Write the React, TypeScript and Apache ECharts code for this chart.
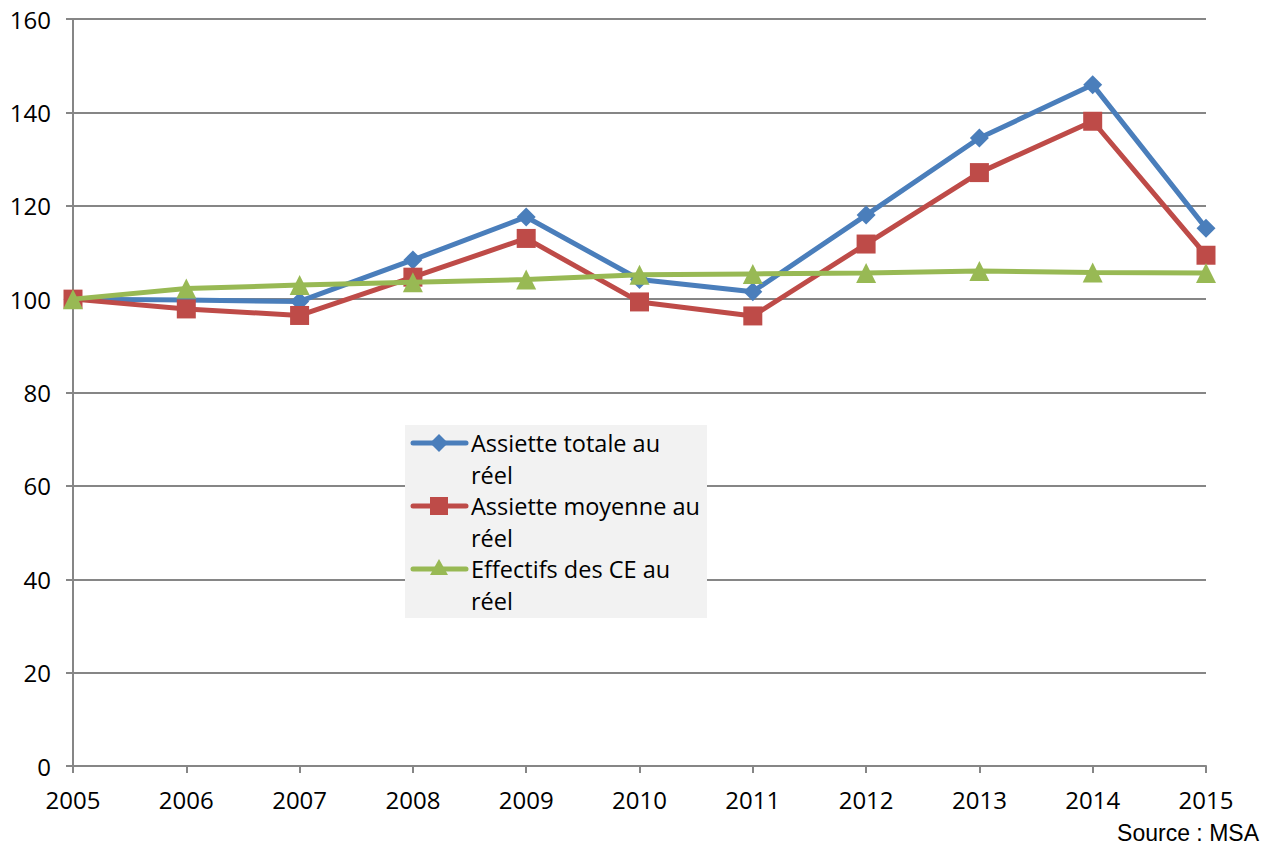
import React, { useEffect, useRef } from "react";
import * as echarts from "echarts";

const years = ["2005", "2006", "2007", "2008", "2009", "2010", "2011", "2012", "2013", "2014", "2015"];
const assietteTotale = [100, 99.8, 99.5, 108.4, 117.6, 104.2, 101.6, 118.0, 134.5, 145.9, 115.2];
const assietteMoyenne = [100, 97.9, 96.5, 104.7, 113.0, 99.4, 96.4, 111.8, 127.1, 138.1, 109.4];
const effectifs = [100, 102.3, 103.0, 103.6, 104.2, 105.2, 105.4, 105.6, 106.0, 105.7, 105.6];
const seriesNames = ["Assiette totale au\nréel", "Assiette moyenne au\nréel", "Effectifs des CE au\nréel"];
const colors = ["#4A7EBB", "#BE4B48", "#98B954"];
const sourceText = "Source : MSA";

const FONT = "'Open Sans', sans-serif";

export default function App() {
  const ref = useRef<HTMLDivElement>(null);
  useEffect(() => {
    if (!ref.current) return;
    const chart = echarts.init(ref.current, null, { renderer: "svg" });

    const legendX = 405;
    const legendY = 425;
    const rowY = [443, 506, 569];
    const legendEls: any[] = [
      {
        type: "rect",
        shape: { x: legendX, y: legendY, width: 302, height: 193 },
        style: { fill: "#F2F2F2" },
        z: 10,
      },
    ];
    rowY.forEach((y, i) => {
      legendEls.push({
        type: "line",
        shape: { x1: 413, y1: y, x2: 466, y2: y },
        style: { stroke: colors[i], lineWidth: 5, lineCap: "round" },
        z: 11,
      });
      const cx = 439;
      if (i === 0) {
        legendEls.push({
          type: "polygon",
          shape: { points: [[cx, y - 9], [cx + 9, y], [cx, y + 9], [cx - 9, y]] },
          style: { fill: colors[i] },
          z: 12,
        });
      } else if (i === 1) {
        legendEls.push({
          type: "rect",
          shape: { x: cx - 9, y: y - 9, width: 18, height: 18 },
          style: { fill: colors[i] },
          z: 12,
        });
      } else {
        legendEls.push({
          type: "polygon",
          shape: { points: [[cx, y - 10], [cx + 9, y + 6], [cx - 9, y + 6]] },
          style: { fill: colors[i] },
          z: 12,
        });
      }
      legendEls.push({
        type: "text",
        x: 471,
        y: y - 16,
        style: {
          text: seriesNames[i],
          font: `23.5px ${FONT}`,
          fill: "#000",
          lineHeight: 32,
          verticalAlign: "top",
          align: "left",
        },
        z: 12,
      });
    });

    legendEls.push({
      type: "text",
      x: 1259,
      y: 833,
      style: {
        text: sourceText,
        font: "23px 'Liberation Sans', Arial, sans-serif",
        fill: "#000",
        align: "right",
        verticalAlign: "middle",
      },
    });

    const symbols = ["diamond", "rect", "triangle"];
    const symbolSizes = [19, 19, 20];
    const data = [assietteTotale, assietteMoyenne, effectifs];

    chart.setOption({
      animation: false,
      grid: { left: 73, right: 73, top: 19, bottom: 83, containLabel: false },
      xAxis: {
        type: "category",
        data: years,
        boundaryGap: false,
        axisLine: { show: true, lineStyle: { color: "#868686", width: 2 } },
        axisTick: { show: true, length: 7, lineStyle: { color: "#868686", width: 2 } },
        axisLabel: { color: "#000", fontSize: 24, fontFamily: FONT, margin: 21 },
        splitLine: { show: false },
      },
      yAxis: {
        type: "value",
        min: 0,
        max: 160,
        interval: 20,
        axisLine: { show: true, lineStyle: { color: "#868686", width: 2 } },
        axisTick: { show: true, length: 7, lineStyle: { color: "#868686", width: 2 } },
        axisLabel: { color: "#000", fontSize: 24, fontFamily: FONT, margin: 22 },
        splitLine: { show: true, lineStyle: { color: "#868686", width: 2 } },
      },
      series: data.map((d, i) => ({
        name: seriesNames[i],
        type: "line",
        data: d,
        symbol: symbols[i],
        symbolSize: symbolSizes[i],
        showAllSymbol: true,
        lineStyle: { color: colors[i], width: 5 },
        itemStyle: { color: colors[i] },
        z: 2 + i,
      })),
      graphic: legendEls,
    });
    return () => chart.dispose();
  }, []);
  return (
    <div
      ref={ref}
      style={{ position: "fixed", left: 0, top: 0, width: 1279, height: 849, background: "#fff" }}
    />
  );
}
